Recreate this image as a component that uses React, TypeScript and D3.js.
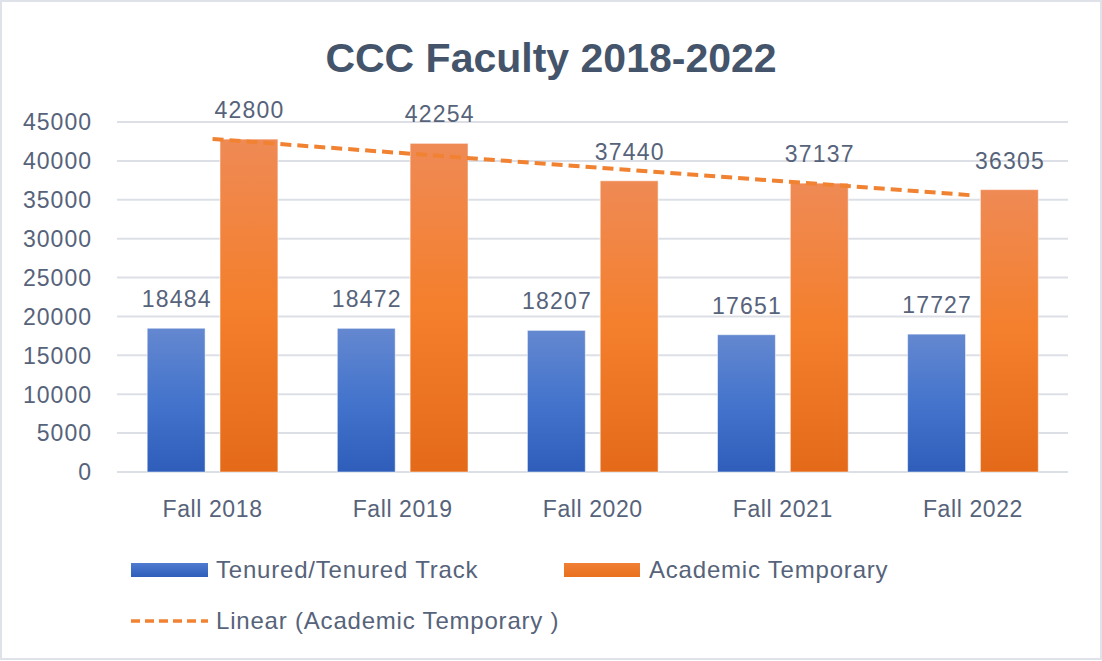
import React from "react";
import * as d3 from "d3";

const categories = ["Fall 2018", "Fall 2019", "Fall 2020", "Fall 2021", "Fall 2022"];
const seriesNames = ["Tenured/Tenured Track", "Academic Temporary"];
const tenured = [18484, 18472, 18207, 17651, 17727];
const temporary = [42800, 42254, 37440, 37137, 36305];
const yTicks = [0, 5000, 10000, 15000, 20000, 25000, 30000, 35000, 40000, 45000];
const title = "CCC Faculty 2018-2022";
const trendLabel = "Linear (Academic Temporary )";

const W = 1102;
const H = 661;
const FONT = "'Liberation Sans', Arial, sans-serif";
const TEXT = "#56637A";
const TITLE_C = "#44546A";

export default function App() {
  const x0 = d3.scaleBand<string>().domain(categories).range([117.5, 1068]).paddingInner(0).paddingOuter(0);
  const x1 = d3
    .scaleBand<string>()
    .domain(seriesNames)
    .range([0, x0.bandwidth()])
    .paddingInner(0.205)
    .paddingOuter(0.408);
  const y = d3.scaleLinear().domain([0, 45000]).range([472, 122]);

  // linear trendline (least squares) on Academic Temporary, x = 1..n
  const n = temporary.length;
  const xs = temporary.map((_, i) => i + 1);
  const mx = d3.mean(xs) as number;
  const my = d3.mean(temporary) as number;
  const slope =
    d3.sum(xs.map((xv, i) => (xv - mx) * (temporary[i] - my))) / d3.sum(xs.map((xv) => (xv - mx) ** 2));
  const icpt = my - slope * mx;
  const trendPts: [number, number][] = [1, n].map((xv) => [
    (x0(categories[xv - 1]) as number) + x0.bandwidth() / 2,
    y(icpt + slope * xv),
  ]);
  const line = d3.line();

  const seriesData = [tenured, temporary];
  const fills = ["url(#gBlue)", "url(#gOrange)"];

  return (
    <div style={{ position: "fixed", left: 0, top: 0, width: W, height: H, background: "#fff" }}>
      <svg width={W} height={H} style={{ display: "block" }}>
        <defs>
          <linearGradient id="gBlue" x1="0" y1="0" x2="0" y2="1">
            <stop offset="0" stopColor="#6488D0" />
            <stop offset="0.5" stopColor="#4474CC" />
            <stop offset="1" stopColor="#2E5EBA" />
          </linearGradient>
          <linearGradient id="gOrange" x1="0" y1="0" x2="0" y2="1">
            <stop offset="0" stopColor="#EF8A55" />
            <stop offset="0.5" stopColor="#F47F2C" />
            <stop offset="1" stopColor="#E46A19" />
          </linearGradient>
          <linearGradient id="gBlueL" x1="0" y1="0" x2="0" y2="1">
            <stop offset="0" stopColor="#4F7BD0" />
            <stop offset="1" stopColor="#2E5EBA" />
          </linearGradient>
          <linearGradient id="gOrangeL" x1="0" y1="0" x2="0" y2="1">
            <stop offset="0" stopColor="#F07F35" />
            <stop offset="1" stopColor="#E8701E" />
          </linearGradient>
        </defs>
        <rect x={1} y={1} width={W - 2} height={H - 3} fill="#fff" stroke="#DFE3E9" strokeWidth={2} />

        <text
          x={551}
          y={72}
          textAnchor="middle"
          fontFamily={FONT}
          fontWeight="bold"
          fontSize={41}
          fill={TITLE_C}
        >
          {title}
        </text>

        {/* gridlines */}
        {yTicks.map((t) => (
          <line key={t} x1={117} x2={1068} y1={y(t)} y2={y(t)} stroke="#DCE0E6" strokeWidth={2} />
        ))}
        {/* y tick labels */}
        {yTicks.map((t) => (
          <text
            key={"l" + t}
            x={92}
            y={y(t)}
            dy="0.36em"
            textAnchor="end"
            fontFamily={FONT}
            fontSize={23}
            letterSpacing={1}
            fill={TEXT}
          >
            {t}
          </text>
        ))}

        {/* bars */}
        {categories.map((c, ci) => (
          <g key={c} transform={`translate(${x0(c)},0)`}>
            {seriesNames.map((s, si) => {
              const v = seriesData[si][ci];
              const bx = x1(s) as number;
              const bw = x1.bandwidth();
              return (
                <g key={s}>
                  <rect
                    x={bx}
                    y={y(v)}
                    width={bw}
                    height={y(0) - y(v)}
                    fill={fills[si]}
                    stroke="#FFFFFF"
                    strokeOpacity={0.5}
                    strokeWidth={1}
                  />
                  <text
                    x={bx + bw / 2 + 0.6}
                    y={y(v) - 21}
                    textAnchor="middle"
                    fontFamily={FONT}
                    fontSize={23}
                    letterSpacing={1.2}
                    fill={TEXT}
                  >
                    {v}
                  </text>
                </g>
              );
            })}
            <text
              x={x0.bandwidth() / 2}
              y={517}
              textAnchor="middle"
              fontFamily={FONT}
              fontSize={23}
              letterSpacing={0.6}
              fill={TEXT}
            >
              {c}
            </text>
          </g>
        ))}

        {/* trendline */}
        <path
          d={line(trendPts) as string}
          fill="none"
          stroke="#F08232"
          strokeWidth={4}
          strokeDasharray="11,6"
        />

        {/* legend */}
        <g fontFamily={FONT} fontSize={24} letterSpacing={0.8} fill={TEXT}>
          <rect x={131} y={563} width={77} height={14} fill="url(#gBlueL)" />
          <text x={216} y={578}>
            {seriesNames[0]}
          </text>
          <rect x={564} y={563} width={76} height={14} fill="url(#gOrangeL)" />
          <text x={649} y={578}>
            {seriesNames[1]}
          </text>
          <line x1={131} x2={208} y1={621} y2={621} stroke="#F08232" strokeWidth={3.5} strokeDasharray="9,5" />
          <text x={216} y={629}>
            {trendLabel}
          </text>
        </g>
      </svg>
    </div>
  );
}
